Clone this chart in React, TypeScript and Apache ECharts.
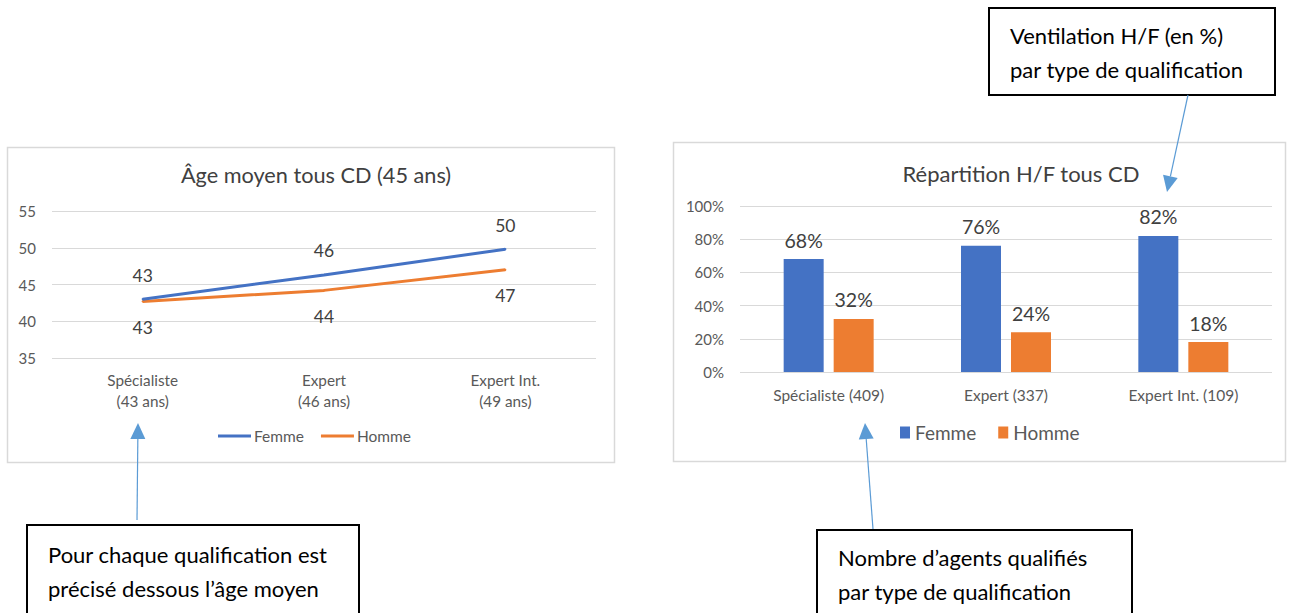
import React, { useEffect, useRef } from "react";
import * as echarts from "echarts";

// ---- Data ----
const qualifications = ["Spécialiste", "Expert", "Expert Int."];
const avgAgeLabels = ["43 ans", "46 ans", "49 ans"];
const agentCounts = [409, 337, 109];
const femmeAge = [43.0, 46.3, 49.8];
const hommeAge = [42.7, 44.2, 47.0];
const femmePct = [68, 76, 82];
const hommePct = [32, 24, 18];
const seriesNames = ["Femme", "Homme"];
const lineTitle = "Âge moyen tous CD (45 ans)";
const barTitle = "Répartition H/F tous CD";
const noteTop = ["Ventilation H/F (en %)", "par type de qualification"];
const noteLeft = ["Pour chaque qualification est", "précisé dessous l’âge moyen"];
const noteRight = ["Nombre d’agents qualifiés", "par type de qualification"];

const FEMME = "#4472C4";
const HOMME = "#ED7D31";
const GRID = "#D9D9D9";
const AXIS_TXT = "#595959";
const LABEL_TXT = "#404040";
const ARROW = "#5B9BD5";
const FONT = "Lato";

function arrow(x1: number, y1: number, x2: number, y2: number) {
  const dx = x2 - x1;
  const dy = y2 - y1;
  const len = Math.sqrt(dx * dx + dy * dy);
  const ux = dx / len;
  const uy = dy / len;
  const hl = 16;
  const hw = 7.5;
  const bx = x2 - ux * hl;
  const by = y2 - uy * hl;
  const nx = -uy;
  const ny = ux;
  return [
    {
      type: "line",
      shape: { x1, y1, x2: bx, y2: by },
      style: { stroke: ARROW, lineWidth: 1.2 },
      z: 100,
    },
    {
      type: "polygon",
      shape: {
        points: [
          [x2, y2],
          [bx + nx * hw, by + ny * hw],
          [bx - nx * hw, by - ny * hw],
        ],
      },
      style: { fill: ARROW },
      z: 100,
    },
  ];
}

function noteBox(x: number, y: number, w: number, h: number, lines: string[], tx: number, ty: number) {
  return [
    {
      type: "rect",
      shape: { x, y, width: w, height: h },
      style: { fill: "#ffffff", stroke: "#000000", lineWidth: 2 },
      z: 90,
    },
    ...lines.map((t, i) => ({
      type: "text",
      x: tx,
      y: ty + i * 34,
      style: {
        text: t,
        fill: "#000000",
        font: `22px ${FONT}`,
        textVerticalAlign: "middle",
        textAlign: "left",
      },
      z: 95,
    })),
  ];
}

export default function App() {
  const ref = useRef<HTMLDivElement>(null);
  useEffect(() => {
    if (!ref.current) return;
    const chart = echarts.init(ref.current, undefined, { renderer: "svg" });
    const lineCats = qualifications.map((q, i) => `${q}\n(${avgAgeLabels[i]})`);
    const barCats = qualifications.map((q, i) => `${q} (${agentCounts[i]})`);

    const option: any = {
      animation: false,
      backgroundColor: "#ffffff",
      textStyle: { fontFamily: FONT },
      title: [
        {
          text: lineTitle,
          left: 311,
          top: 159,
          textAlign: "center",
          textStyle: { fontFamily: FONT, fontSize: 21.7, fontWeight: "normal", color: LABEL_TXT },
        },
        {
          text: barTitle,
          left: 1016,
          top: 157,
          textAlign: "center",
          textStyle: { fontFamily: FONT, fontSize: 22, fontWeight: "normal", color: LABEL_TXT },
        },
      ],
      legend: [
        {
          left: 213,
          top: 423,
          data: seriesNames.map((n) => ({ name: n, icon: "rect" })),
          itemWidth: 33,
          itemHeight: 3,
          itemGap: 17,
          selectedMode: false,
          textStyle: { fontFamily: FONT, fontSize: 15.5, color: AXIS_TXT, padding: [0, 0, 0, -2] },
        },
        {
          left: 895,
          top: 418,
          data: seriesNames.map((n) => ({ name: n, icon: "rect" })),
          itemWidth: 10,
          itemHeight: 12,
          itemGap: 22,
          selectedMode: false,
          textStyle: { fontFamily: FONT, fontSize: 19, color: AXIS_TXT },
        },
      ],
      grid: [
        { left: 52, top: 211, width: 544, height: 147 },
        { left: 740, top: 206, width: 532, height: 166 },
      ],
      xAxis: [
        {
          gridIndex: 0,
          type: "category",
          data: lineCats,
          boundaryGap: true,
          axisLine: { show: false },
          axisTick: { show: false },
          axisLabel: { color: AXIS_TXT, fontSize: 15.3, lineHeight: 21, margin: 11, fontFamily: FONT },
        },
        {
          gridIndex: 1,
          type: "category",
          data: barCats,
          boundaryGap: true,
          axisLine: { show: false },
          axisTick: { show: false },
          axisLabel: { color: AXIS_TXT, fontSize: 15.5, margin: 15, fontFamily: FONT },
        },
      ],
      yAxis: [
        {
          gridIndex: 0,
          type: "value",
          min: 35,
          max: 55,
          interval: 5,
          axisLine: { show: false },
          axisTick: { show: false },
          axisLabel: { color: AXIS_TXT, fontSize: 15, margin: 16, fontFamily: FONT },
          splitLine: { lineStyle: { color: GRID, width: 1 } },
        },
        {
          gridIndex: 1,
          type: "value",
          min: 0,
          max: 100,
          interval: 20,
          axisLine: { show: false },
          axisTick: { show: false },
          axisLabel: { color: AXIS_TXT, fontSize: 15, margin: 16, fontFamily: FONT, formatter: "{value}%" },
          splitLine: { lineStyle: { color: GRID, width: 1 } },
        },
      ],
      series: [
        {
          name: seriesNames[0],
          type: "line",
          xAxisIndex: 0,
          yAxisIndex: 0,
          data: femmeAge,
          color: FEMME,
          symbol: "circle",
          symbolSize: 2,
          lineStyle: { width: 3, color: FEMME },
          label: {
            show: true,
            position: "top",
            distance: 14,
            fontSize: 17.5,
            color: LABEL_TXT,
            fontFamily: FONT,
            formatter: (p: any) => String(Math.round(p.value)),
          },
          z: 3,
        },
        {
          name: seriesNames[1],
          type: "line",
          xAxisIndex: 0,
          yAxisIndex: 0,
          data: hommeAge,
          color: HOMME,
          symbol: "circle",
          symbolSize: 2,
          lineStyle: { width: 3, color: HOMME },
          label: {
            show: true,
            position: "bottom",
            distance: 16,
            fontSize: 17.5,
            color: LABEL_TXT,
            fontFamily: FONT,
            formatter: (p: any) => String(Math.round(p.value)),
          },
          z: 2,
        },
        {
          name: seriesNames[0],
          type: "bar",
          xAxisIndex: 1,
          yAxisIndex: 1,
          data: femmePct,
          color: FEMME,
          barWidth: 40,
          barGap: "25%",
          label: {
            show: true,
            position: "top",
            distance: 9,
            fontSize: 19.5,
            color: LABEL_TXT,
            fontFamily: FONT,
            formatter: "{c}%",
          },
        },
        {
          name: seriesNames[1],
          type: "bar",
          xAxisIndex: 1,
          yAxisIndex: 1,
          data: hommePct,
          color: HOMME,
          barWidth: 40,
          barGap: "25%",
          label: {
            show: true,
            position: "top",
            distance: 9,
            fontSize: 19.5,
            color: LABEL_TXT,
            fontFamily: FONT,
            formatter: "{c}%",
          },
        },
      ],
      graphic: [
        {
          type: "rect",
          shape: { x: 7.5, y: 147.5, width: 607, height: 315 },
          style: { fill: "none", stroke: GRID, lineWidth: 1.5 },
          z: -1,
          silent: true,
        },
        {
          type: "rect",
          shape: { x: 673.5, y: 142.5, width: 612, height: 319 },
          style: { fill: "none", stroke: GRID, lineWidth: 1.5 },
          z: -1,
          silent: true,
        },
        ...noteBox(989, 8, 286, 87, noteTop, 1010, 35),
        ...noteBox(27, 525, 332, 110, noteLeft, 48, 554),
        ...noteBox(817, 530, 315, 110, noteRight, 838, 557),
        ...arrow(1188, 95, 1167, 192),
        ...arrow(137, 520, 138, 423),
        ...arrow(873, 529, 865, 423),
      ],
    };
    chart.setOption(option);
    return () => chart.dispose();
  }, []);
  return (
    <div
      ref={ref}
      style={{ position: "fixed", left: 0, top: 0, width: 1295, height: 613, background: "#fff" }}
    />
  );
}
